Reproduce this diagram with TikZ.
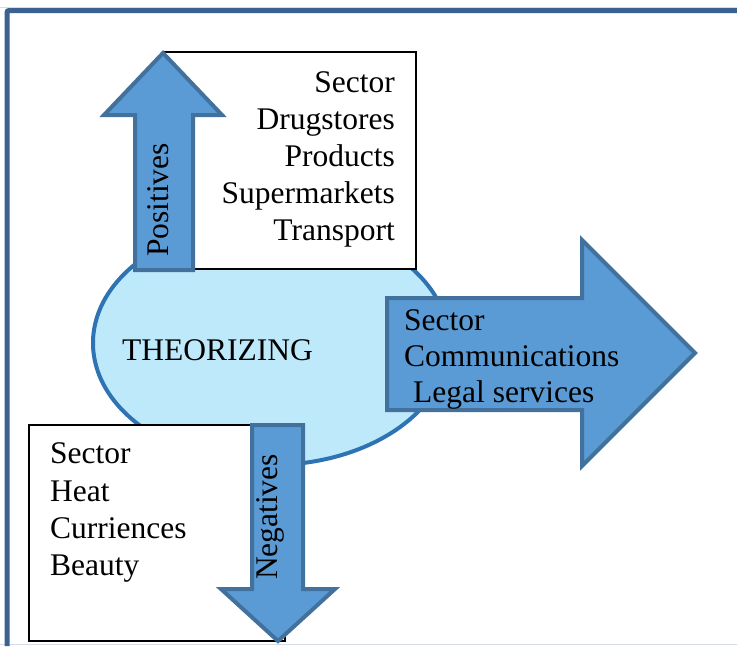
\documentclass[tikz,border=0pt]{standalone}
\usepackage{fontspec}
\setmainfont{Liberation Serif}
\definecolor{framecol}{HTML}{3B6190}
\definecolor{ellfill}{HTML}{BEE9FB}
\definecolor{elldraw}{HTML}{2E74B5}
\definecolor{arrfill}{HTML}{5B9BD5}
\definecolor{arrdraw}{HTML}{41719C}
\definecolor{faint}{HTML}{D5DCE6}
\tikzset{
  blockarrow/.style={fill=arrfill, draw=arrdraw, line width=4pt, line join=miter},
  listbox/.style={fill=white, draw=black, line width=1.4pt},
  txt/.style={font=\fontsize{31.5}{37}\selectfont, inner sep=0pt, text=black},
}
\begin{document}
\begin{tikzpicture}[x=1pt, y=-1pt]
\useasboundingbox (0,0) rectangle (737,646);
% outer frame
\draw[faint, line width=1pt] (0,7) -- (737,7);
\draw[faint, line width=1pt] (0,644) -- (737,644);
\draw[framecol, line width=5pt, rounded corners=2pt] (7,646) -- (7,10.5) -- (737,10.5);
% central ellipse
\draw[fill=ellfill, draw=elldraw, line width=4pt] (271,343) ellipse [x radius=178, y radius=122];
\node[txt, anchor=base west] (theo) at (122,360) {THEORIZING};
% top list box
\draw[listbox] (163,52) rectangle (416,269);
\node[txt, anchor=base east] (t1) at (395,92) {Sector};
\node[txt, anchor=base east] (t2) at (395,129) {Drugstores};
\node[txt, anchor=base east] (t3) at (395,166) {Products};
\node[txt, anchor=base east] (t4) at (395,203) {Supermarkets};
\node[txt, anchor=base east] (t5) at (395,240) {Transport};
% up arrow
\draw[blockarrow] (135,270) -- (135,115) -- (104,115) -- (163,53) -- (222,115) -- (193,115) -- (193,270) -- cycle;
\node[txt, anchor=base, rotate=90] (pos) at (168,200) {Positives};
% right arrow
\draw[blockarrow] (387,298) -- (582,298) -- (582,240) -- (695,353) -- (582,466) -- (582,410) -- (387,410) -- cycle;
\node[txt, anchor=base west] (r1) at (404,330) {Sector};
\node[txt, anchor=base west] (r2) at (404,366) {Communications};
\node[txt, anchor=base west] (r3) at (413,402) {Legal services};
% bottom list box
\draw[listbox] (29,425) rectangle (285,641);
\node[txt, anchor=base west] (b1) at (50,463) {Sector};
\node[txt, anchor=base west] (b2) at (50,501) {Heat};
\node[txt, anchor=base west] (b3) at (50,538) {Curriences};
\node[txt, anchor=base west] (b4) at (50,575) {Beauty};
% down arrow
\draw[blockarrow] (252,425) -- (303,425) -- (303,589) -- (335,589) -- (278,641) -- (221,589) -- (252,589) -- cycle;
\node[txt, anchor=base, rotate=90] (neg) at (277,517) {Negatives};
\end{tikzpicture}
\end{document}
